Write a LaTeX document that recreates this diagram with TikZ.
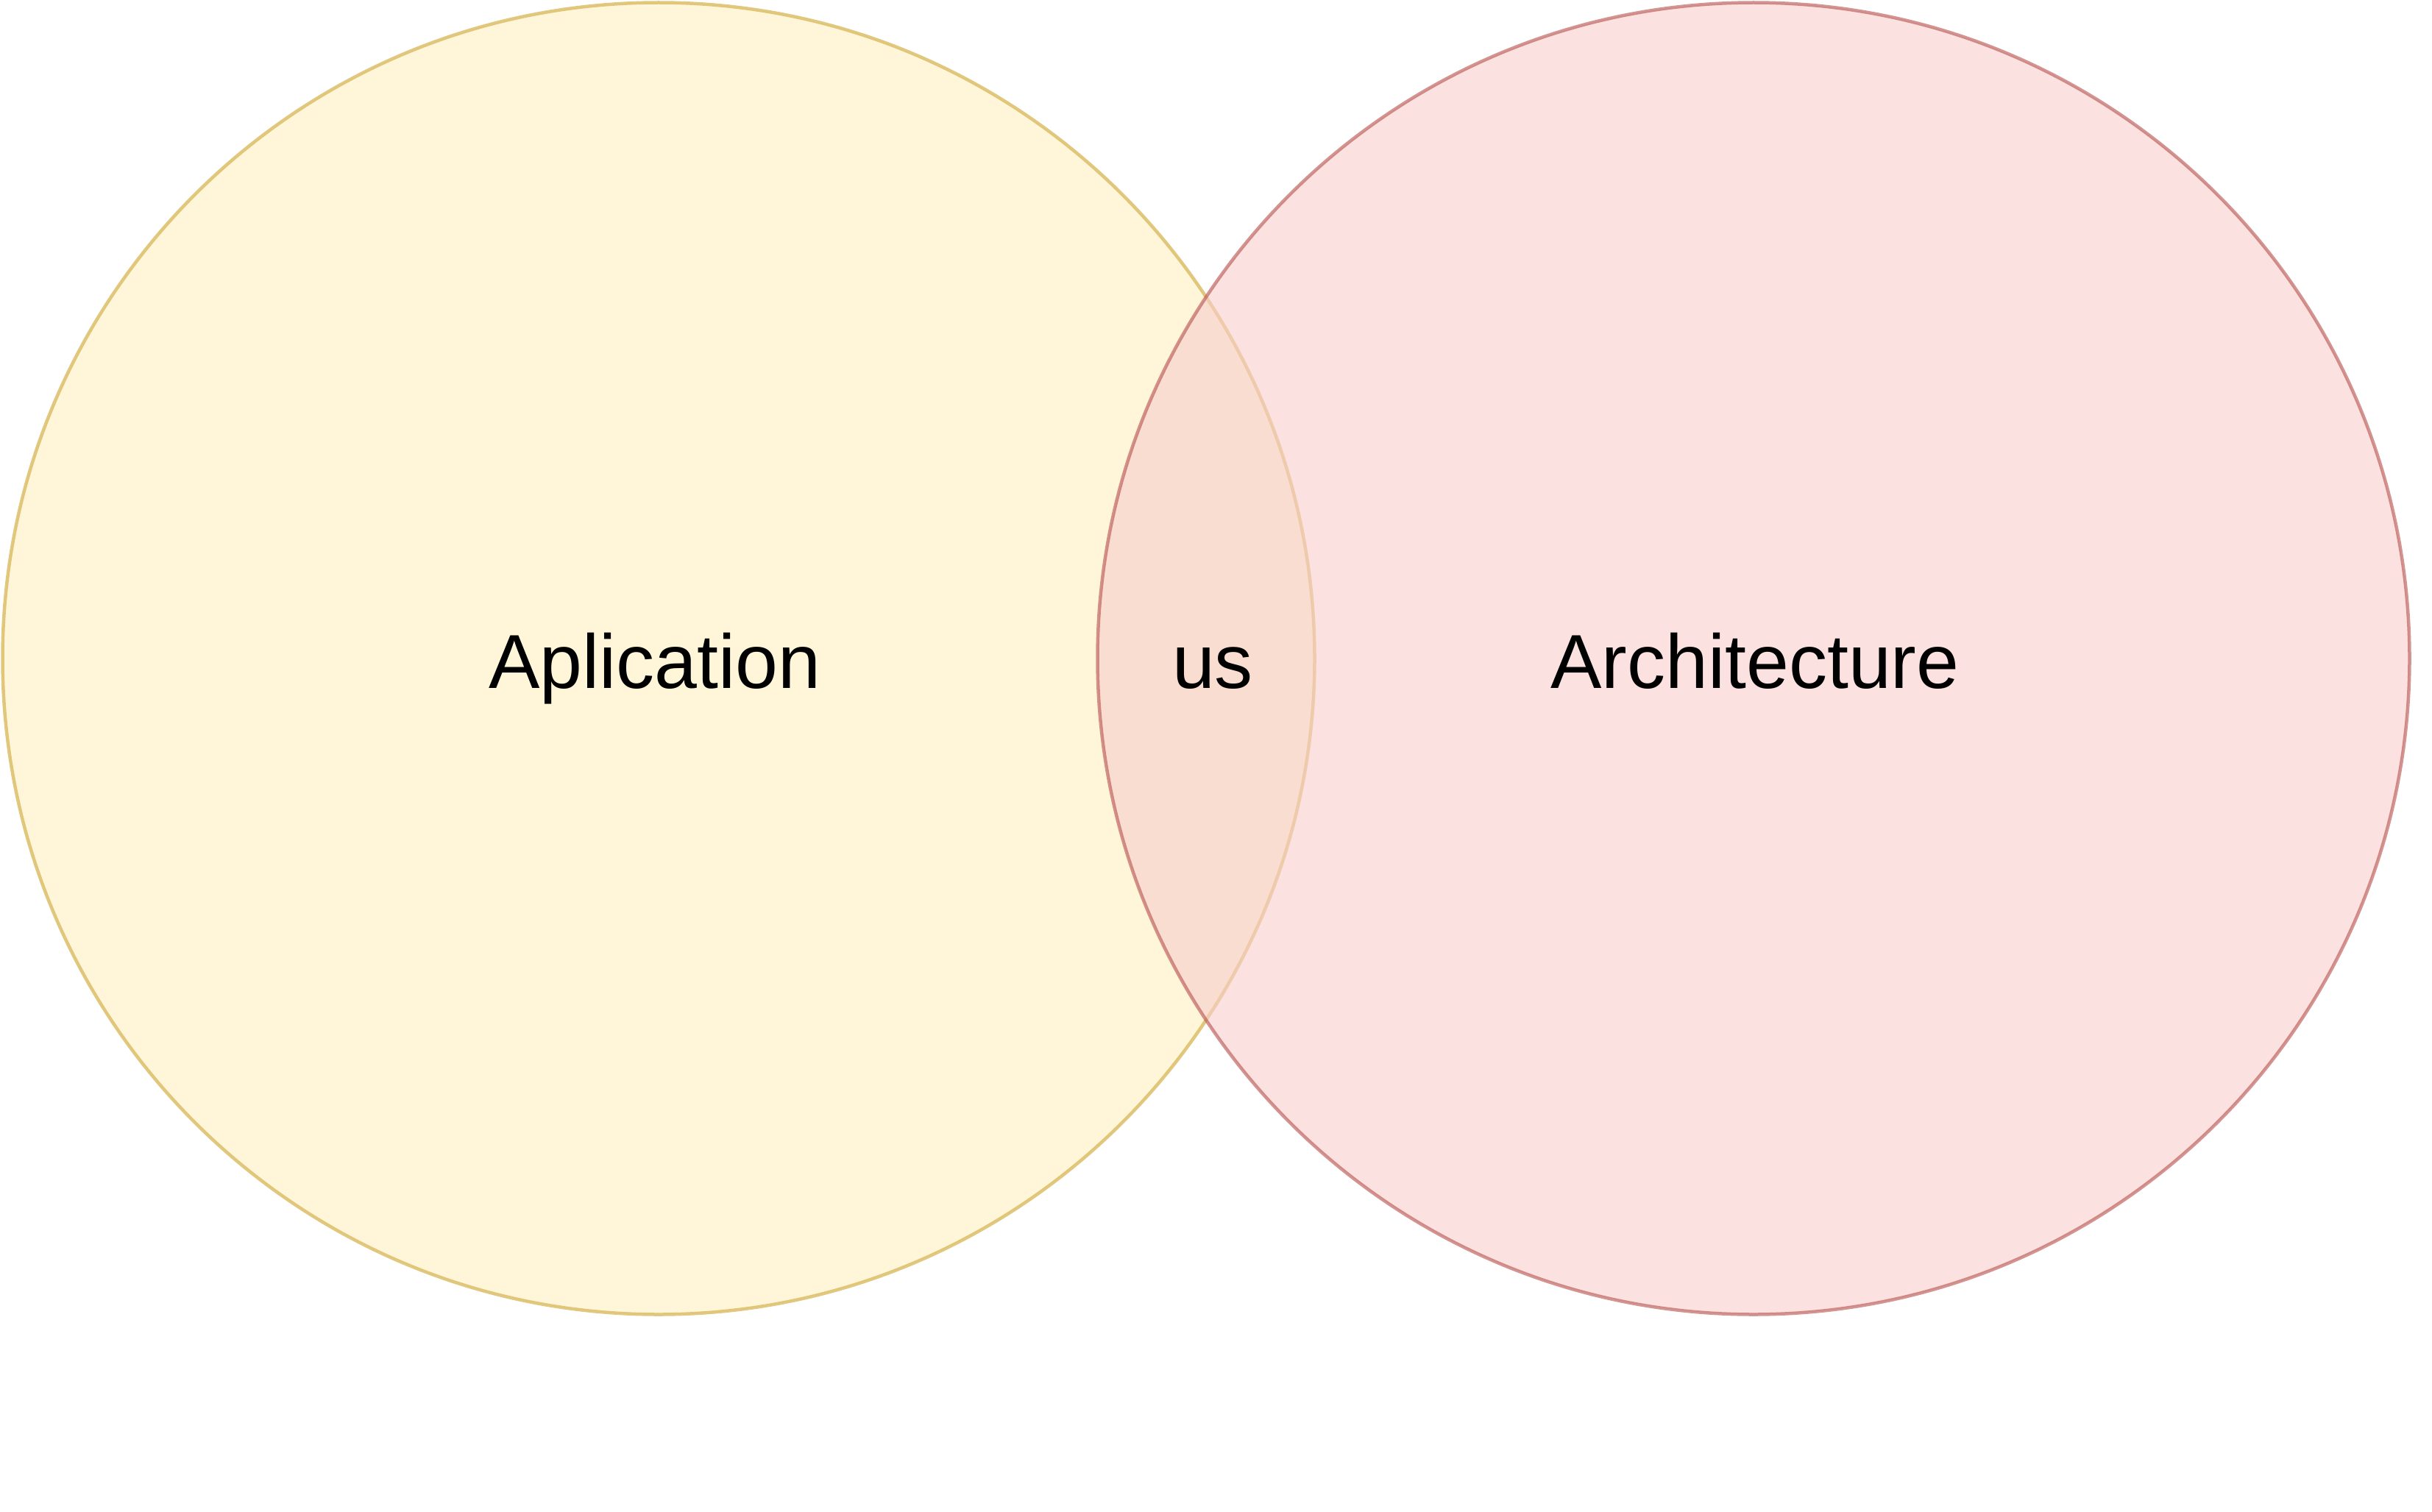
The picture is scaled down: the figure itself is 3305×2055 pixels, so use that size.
\documentclass[tikz,border=0pt]{standalone}
\usepackage{fontspec}
\setmainfont{Liberation Sans}
\definecolor{yfill}{HTML}{FFF2CC}
\definecolor{ydraw}{HTML}{D6B656}
\definecolor{pfill}{HTML}{F8CECC}
\definecolor{pdraw}{HTML}{B85450}
\tikzset{
  setcircle/.style={circle,inner sep=0pt,minimum size=1783pt,line width=4.5pt},
  setlabel/.style={anchor=base,inner sep=0pt,font=\fontsize{104}{125}\selectfont,text=black}
}
\begin{document}
\begin{tikzpicture}[x=1pt,y=-1pt]
\useasboundingbox (0,0) rectangle (3305,2055);
\node[setcircle,fill=yfill,draw=ydraw,opacity=0.75] (app) at (895,895) {};
\node[setcircle,fill=pfill,draw=pdraw,opacity=0.62] (arch) at (2383,895) {};
\node[setlabel] (applabel) at (890,935) {Aplication};
\node[setlabel] (uslabel) at (1648,935) {us};
\node[setlabel] (archlabel) at (2385,935) {Architecture};
\end{tikzpicture}
\end{document}
